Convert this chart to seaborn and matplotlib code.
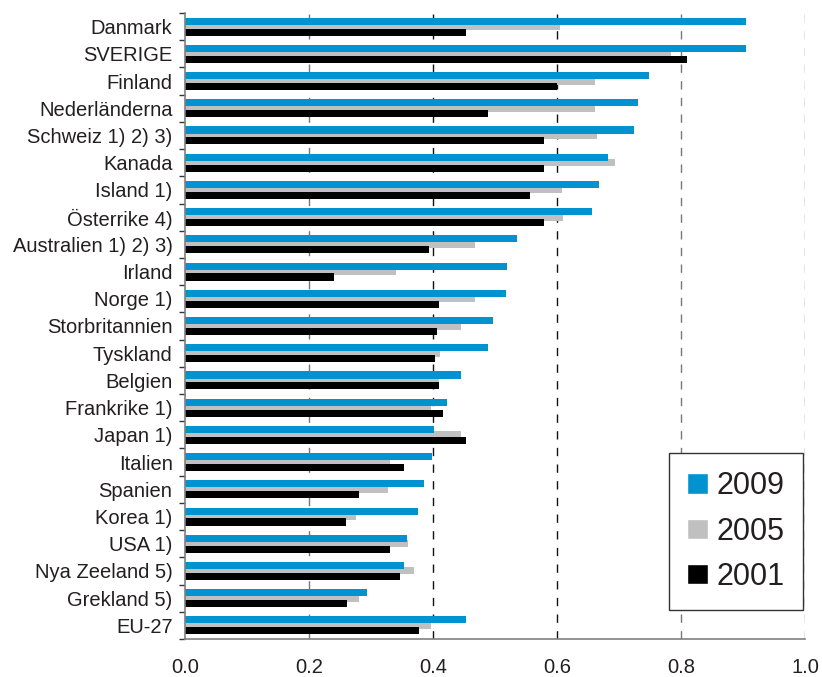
import pandas as pd
import matplotlib
matplotlib.use("Agg")
import matplotlib.pyplot as plt
import seaborn as sns
from matplotlib.ticker import FixedLocator

# Data
lander = ["Danmark", "SVERIGE", "Finland", "Nederländerna", "Schweiz 1) 2) 3)",
          "Kanada", "Island 1)", "Österrike 4)", "Australien 1) 2) 3)", "Irland",
          "Norge 1)", "Storbritannien", "Tyskland", "Belgien", "Frankrike 1)",
          "Japan 1)", "Italien", "Spanien", "Korea 1)", "USA 1)",
          "Nya Zeeland 5)", "Grekland 5)", "EU-27"]
v2009 = [0.905, 0.905, 0.749, 0.730, 0.724, 0.683, 0.667, 0.657, 0.536, 0.520,
         0.518, 0.497, 0.489, 0.445, 0.423, 0.401, 0.398, 0.385, 0.376, 0.358,
         0.354, 0.293, 0.453]
v2005 = [0.605, 0.784, 0.662, 0.661, 0.665, 0.693, 0.608, 0.610, 0.468, 0.340,
         0.468, 0.445, 0.411, 0.409, 0.396, 0.445, 0.331, 0.327, 0.276, 0.359,
         0.370, 0.281, 0.396]
v2001 = [0.453, 0.810, 0.600, 0.489, 0.579, 0.579, 0.557, 0.579, 0.393, 0.241,
         0.409, 0.406, 0.403, 0.409, 0.416, 0.453, 0.354, 0.281, 0.259, 0.331,
         0.346, 0.262, 0.377]
years = ["2009", "2005", "2001"]
colors = ["#0093D0", "#C0C0C0", "#000000"]
xticks = [0.0, 0.2, 0.4, 0.6, 0.8, 1.0]

TEXT = "#231F20"


def build_frame():
    df = pd.DataFrame({"land": lander, "2009": v2009, "2005": v2005, "2001": v2001})
    return df.melt(id_vars="land", var_name="year", value_name="value")


def plot(df):
    sns.set_style("white")
    plt.rcParams["font.family"] = ["Liberation Sans", "DejaVu Sans"]

    fig = plt.figure(figsize=(8.22, 6.77), dpi=100)
    ax = fig.add_axes([185 / 822, 1 - 639 / 677, (805 - 185) / 822, (639 - 13) / 677])

    sns.barplot(data=df, x="value", y="land", hue="year", hue_order=years,
                palette=colors, orient="h", width=0.6, saturation=1,
                errorbar=None, ax=ax)

    # overlapping bars like the original (thicker than the dodge slot)
    bar_h = 0.26
    for i, cont in enumerate(ax.containers):
        for bar in cont:
            c = bar.get_y() + bar.get_height() / 2
            bar.set_height(bar_h)
            bar.set_y(c - bar_h / 2)
            bar.set_linewidth(0)
            bar.set_zorder(1.5 if i == 1 else 2)

    ax.set_xlim(0, 1.0)
    ax.set_ylim(len(lander) - 0.5, -0.5)
    ax.set_xticks(xticks)
    ax.set_xticklabels([f"{t:.1f}" for t in xticks])
    ax.set_xlabel("")
    ax.set_ylabel("")

    # dashed vertical gridlines
    grid_cols = ["#777777", "#111111", "#111111", "#777777", "#777777"]
    for x, col in zip(xticks[1:], grid_cols):
        ax.axvline(x, color=col, lw=1.0, ls=(0, (6, 6)), zorder=0.5)

    for s in ["top", "right"]:
        ax.spines[s].set_visible(False)
    for s in ["left", "bottom"]:
        ax.spines[s].set_color("#808080")
        ax.spines[s].set_linewidth(1.2)

    ax.tick_params(axis="x", length=4, width=1, color="#808080", direction="out",
                   pad=10, labelsize=14.5, labelcolor=TEXT)
    ax.tick_params(axis="y", which="major", length=0, pad=9, labelsize=14.5,
                   labelcolor=TEXT)
    ax.yaxis.set_minor_locator(FixedLocator([i - 0.5 for i in range(len(lander) + 1)]))
    ax.tick_params(axis="y", which="minor", length=4, width=1, color="#333333",
                   direction="out", left=True)

    handles, labels = ax.get_legend_handles_labels()
    ax.legend(handles, labels, loc="upper left",
              bbox_to_anchor=(669 / 822, 1 - 453 / 677), bbox_transform=fig.transFigure,
              borderaxespad=0, fontsize=22, frameon=True, fancybox=False,
              edgecolor="#333333", framealpha=1, handlelength=0.66, handleheight=0.66,
              handletextpad=0.3, labelspacing=0.5, borderpad=0.6,
              labelcolor=TEXT)
    ax.get_legend().get_frame().set_linewidth(1.0)

    fig.savefig("out.png", dpi=100)


def main():
    df = build_frame()
    plot(df)


if __name__ == "__main__":
    main()
